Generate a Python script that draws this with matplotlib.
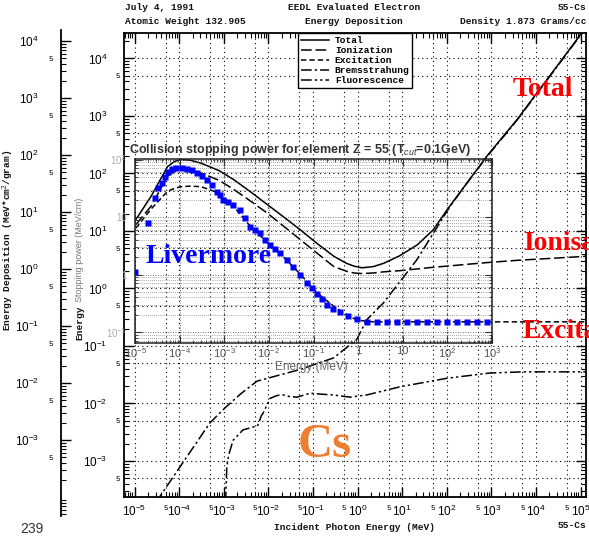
import numpy as np
import matplotlib
matplotlib.use('Agg')
import matplotlib.pyplot as plt
from matplotlib.ticker import (LogLocator, FixedLocator, FixedFormatter,
                               FuncFormatter, NullFormatter)

plt.rcParams['font.family'] = 'Liberation Sans'
plt.rcParams['mathtext.fontset'] = 'custom'
plt.rcParams['mathtext.rm'] = 'Liberation Sans'
plt.rcParams['mathtext.it'] = 'Liberation Sans:italic'
plt.rcParams['mathtext.bf'] = 'Liberation Sans:bold'

MONO = 'Liberation Mono'
SERIF = 'Liberation Serif'

# EEDL energy deposition for Cs (MeV*cm^2/gram) vs incident energy (MeV)
energy = [1.07e-5, 2.34e-5, 5.5e-5, 7.9e-5, 1.1e-4, 1.78e-4, 3.1e-4, 7.9e-4,
          1.7e-3, 4.0e-3, 9.5e-3, 2.24e-2, 5.2e-2, 0.126, 0.295, 0.56, 0.83,
          1.26, 2.24, 3.9, 8.9, 21.9, 50, 102, 282, 794, 3800, 8.3e4, 1.32e5]
total = [15.8, 39.8, 132, 162, 174, 170, 151, 112, 77.6, 47.9, 28.8, 17.4,
         10.5, 6.0, 3.63, 2.75, 2.45, 2.29, 2.40, 2.75, 3.72, 5.75, 10.5,
         23.4, 67.6, 200, 871, 2.14e4, 3.55e4]
ionization = [12.9, 26.9, 89.1, 110, 117, 115, 102, 75.9, 52.5, 33.1, 20.4,
              12.0, 7.08, 4.07, 2.40, 2.0, 1.86, 1.82, 1.86, 1.95, 2.04, 2.19,
              2.34, 2.45, 2.63, 2.82, 3.09, 3.55, 3.63]
excitation = [11.2, 24.0, 49.0, 55.0, 58.9, 60.3, 58.9, 45.7, 26.3, 12.0,
              6.31, 3.47, 1.78, 0.83, 0.49, 0.355, 0.30, 0.275, 0.263, 0.263,
              0.263, 0.263, 0.263, 0.263, 0.263, 0.263, 0.263, 0.263, 0.263]

brems_e = [3.0e-5, 4.9e-4, 1.12e-3, 2.5e-3, 5.6e-3, 5.1e-2, 0.29, 0.955,
           1.62, 3.8, 21.4, 117, 288, 794, 3800, 8.3e4, 1.32e5]
brems = [1.9e-4, 4.6e-3, 8.7e-3, 1.51e-2, 2.45e-2, 3.9e-2, 6.2e-2, 0.129,
         0.288, 0.56, 3.16, 26.3, 69.2, 195, 851, 2.09e4, 3.47e4]

fluor_e = [1.1e-3, 1.17e-3, 1.29e-3, 1.62e-3, 2.7e-3, 4.5e-3, 5.6e-3, 6.2e-3,
           6.9e-3, 7.6e-3, 1.1e-2, 1.58e-2, 2.14e-2, 3.0e-2, 4.4e-2, 8.7e-2,
           0.158, 0.28, 0.68, 1.62, 8.9, 102, 933, 5100, 1.32e5]
fluor = [1.9e-4, 7.9e-4, 1.26e-3, 2.29e-3, 3.47e-3, 3.89e-3, 3.98e-3, 4.68e-3,
         6.03e-3, 6.76e-3, 1.23e-2, 1.38e-2, 1.41e-2, 1.32e-2, 1.29e-2,
         1.51e-2, 1.45e-2, 1.41e-2, 1.29e-2, 1.41e-2, 1.95e-2, 2.75e-2,
         3.39e-2, 3.55e-2, 3.55e-2]

# Geant4 Livermore collision stopping power, Z = 55 (MeV/cm)
liv_e = [1.0e-5, 2.0e-5, 2.8e-5, 3.3e-5, 4.0e-5, 4.7e-5, 5.6e-5, 6.6e-5,
         8.5e-5, 1.12e-4, 1.45e-4, 1.86e-4, 2.4e-4, 3.1e-4, 4.1e-4, 5.2e-4,
         6.8e-4, 8.1e-4, 9.5e-4, 1.23e-3, 1.58e-3, 2.24e-3, 2.9e-3, 3.8e-3,
         4.9e-3, 6.3e-3, 8.3e-3, 1.07e-2, 1.38e-2, 1.78e-2, 2.5e-2, 3.5e-2,
         5.0e-2, 7.1e-2, 9.1e-2, 0.117, 0.155, 0.20, 0.28, 0.40, 0.60, 0.93,
         1.58, 2.6, 4.5, 7.4, 12.3, 20.9, 34.7, 58.9, 97.7, 162, 275, 457, 759]
liv_sp = [1.12, 7.76, 21.4, 31.6, 38.9, 50.1, 61.7, 67.6, 70.8, 70.8, 67.6,
          64.6, 57.5, 52.5, 43.7, 36.3, 27.5, 24.0, 20.0, 18.2, 16.2, 13.2,
          9.55, 6.76, 5.89, 5.25, 3.98, 3.24, 2.75, 2.34, 1.78, 1.38, 0.977,
          0.708, 0.575, 0.468, 0.372, 0.295, 0.251, 0.224, 0.191, 0.166,
          0.151, 0.151, 0.151, 0.151, 0.151, 0.151, 0.151, 0.151, 0.151,
          0.151, 0.151, 0.151, 0.151]

legend_labels = ['Total', 'Ionization', 'Excitation', 'Bremsstrahung',
                 'Fluorescence']
inset_xticks = [1e-5, 1e-4, 1e-3, 1e-2, 1e-1, 1, 10, 1e2, 1e3]
inset_xlabels = ['10$^{-5}$', '10$^{-4}$', '10$^{-3}$', '10$^{-2}$',
                 '10$^{-1}$', '1', '10', '10$^{2}$', '10$^{3}$']
inset_yticks = [0.1, 1, 10, 100]
inset_ylabels = ['10$^{-1}$', '1', '10', '10$^{2}$']
side_decades = [1e-3, 1e-2, 1e-1, 1, 10, 1e2, 1e3, 1e4]

W, H = 589, 540
fig = plt.figure(figsize=(W / 100, H / 100), dpi=100)


def box(left, top, right, bottom):
    """pixel box (from top-left) -> figure rect"""
    return [left / W, 1 - bottom / H, (right - left) / W, (bottom - top) / H]


def ptext(x, y, s, **kw):
    return fig.text(x / W, 1 - y / H, s, **kw)


def five_only(v, pos):
    m = v / 10 ** np.floor(np.log10(v) + 1e-9)
    return '5' if abs(m - 5) < 0.05 else ''


dots = (0, (1, 3))

# ---- main EEDL panel ----
ax = fig.add_axes(box(124, 33, 586, 497))
ax.set_xscale('log')
ax.set_yscale('log')
ax.set_xlim(10 ** -5.236, 10 ** 5.123)
ax.set_ylim(10 ** -3.626, 10 ** 4.443)
ax.set_facecolor('none')

for a in (ax.xaxis, ax.yaxis):
    a.set_major_locator(LogLocator(base=10, numticks=30))
    a.set_minor_locator(LogLocator(base=10, subs=np.arange(2, 10), numticks=30))
    a.set_minor_formatter(FuncFormatter(five_only))

ax.tick_params(which='both', direction='in', top=True, right=True,
               color='k')
ax.tick_params(which='major', length=7, width=1.0, labelsize=8.5)
ax.tick_params(which='minor', length=3.5, width=0.8, labelsize=5.5,
               labelfontfamily=MONO)
ax.tick_params(axis='y', which='major', pad=12)
ax.tick_params(axis='y', which='minor', pad=2.5)
ax.tick_params(axis='x', which='major', pad=5)
ax.tick_params(axis='x', which='minor', pad=6)
for s in ax.spines.values():
    s.set_linewidth(1.3)

ax.grid(True, which='major', linestyle=dots, color='k', lw=0.8)
for k in range(-5, 6):
    ax.axvline(5 * 10.0 ** k, linestyle=dots, color='k', lw=0.8, zorder=0.5)
for k in range(-4, 5):
    ax.axhline(5 * 10.0 ** k, linestyle=dots, color='k', lw=0.8, zorder=0.5)

lw = 1.1
ax.plot(energy, total, color='k', lw=lw, ls='-', label=legend_labels[0])
ax.plot(energy, ionization, color='k', lw=lw, ls=(0, (7, 2.5)),
        label=legend_labels[1])
ax.plot(energy, excitation, color='k', lw=lw, ls=(0, (3.5, 2)),
        label=legend_labels[2])
ax.plot(brems_e, brems, color='k', lw=lw, ls=(0, (7, 2, 1.5, 2)),
        label=legend_labels[3])
ax.plot(fluor_e, fluor, color='k', lw=lw, ls=(0, (7, 2, 1.5, 2, 1.5, 2)),
        label=legend_labels[4])

leg = ax.legend(loc='upper left', bbox_to_anchor=((298 - 124) / 462, 1.0),
                frameon=True, fancybox=False, edgecolor='k', framealpha=1,
                prop={'family': MONO, 'weight': 'bold', 'size': 6.8},
                handlelength=3.0, handletextpad=0.6, labelspacing=0.12,
                borderpad=0.3, borderaxespad=0)
leg.get_frame().set_linewidth(1.0)
leg.set_zorder(5)

# ---- extra log axis on the far left ----
lax = fig.add_axes(box(61, 30, 62, 516))
lax.patch.set_alpha(0)
for s in ('top', 'right', 'bottom'):
    lax.spines[s].set_visible(False)
lax.spines['left'].set_linewidth(1.3)
lax.set_xticks([])
lax.set_yscale('log')
lax.set_ylim(10 ** -4.333, 10 ** 4.193)
lax.yaxis.set_major_locator(FixedLocator(side_decades))
lax.yaxis.set_minor_locator(LogLocator(base=10, subs=np.arange(2, 10), numticks=30))
lax.yaxis.set_minor_formatter(FuncFormatter(
    lambda v, p: five_only(v, p) if v > 4e-4 else ''))
lax.tick_params(axis='y', which='both', direction='in')
lax.tick_params(axis='y', which='major', length=7, width=1.0, pad=16,
                labelsize=8.5)
lax.tick_params(axis='y', which='minor', length=3.5, width=0.8, pad=6,
                labelsize=5.5, labelfontfamily=MONO)

# ---- Geant4 inset ----
ins = fig.add_axes(box(135, 159, 492, 343))
ins.patch.set_alpha(0)
ins.set_xscale('log')
ins.set_yscale('log')
ins.set_xlim(1e-5, 1e3)
ins.set_ylim(10 ** -1.19, 10 ** 2.009)
ins.xaxis.set_major_locator(FixedLocator(inset_xticks))
ins.xaxis.set_major_formatter(FixedFormatter(inset_xlabels))
ins.xaxis.set_minor_locator(LogLocator(base=10, subs=np.arange(2, 10), numticks=30))
ins.xaxis.set_minor_formatter(NullFormatter())
ins.yaxis.set_major_locator(FixedLocator(inset_yticks))
ins.yaxis.set_major_formatter(FixedFormatter(inset_ylabels))
ins.yaxis.set_minor_locator(LogLocator(base=10, subs=np.arange(2, 10), numticks=30))
ins.yaxis.set_minor_formatter(NullFormatter())
ins.tick_params(which='both', direction='in', top=True, right=True,
                color='#333')
ins.tick_params(which='major', length=5, labelsize=8, labelcolor='#555',
                pad=2)
ins.tick_params(which='minor', length=2.5)
ins.tick_params(axis='y', which='major', labelcolor='#aaa', labelsize=7,
                pad=6)
for s in ins.spines.values():
    s.set_linewidth(1.1)
    s.set_color('#222')
ins.grid(True, which='major', linestyle=(0, (1, 2)), color='#444', lw=0.6)
ins.grid(True, which='minor', axis='y', linestyle=(0, (1, 2)), color='#555',
         lw=0.5)
ins.plot(liv_e, liv_sp, ls='none', marker='s', ms=4, color='#0000ff',
         mec='none', zorder=4)

ptext(300, 150, 'Collision stopping power for element Z = 55 (T$_{cut}$=0.1GeV)',
      ha='center', va='center', fontsize=9, fontweight='bold', color='#333')
ptext(311, 367, 'Energy (MeV)', ha='center', va='center', fontsize=8.5,
      color='#666')

# ---- header / footer texts ----
mono = dict(family=MONO, fontweight='bold', fontsize=6.8, color='#111')
ptext(125, 8, 'July 4, 1991', ha='left', va='center', **mono)
ptext(125, 21, 'Atomic Weight 132.905', ha='left', va='center', **mono)
ptext(354, 8, 'EEDL Evaluated Electron', ha='center', va='center', **mono)
ptext(354, 21, 'Energy Deposition', ha='center', va='center', **mono)
ptext(586, 8, '55-Cs', ha='right', va='center', **mono)
ptext(586, 21, 'Density 1.873 Grams/cc', ha='right', va='center', **mono)
ptext(355, 527, 'Incident Photon Energy (MeV)', ha='center', va='center',
      **mono)
ptext(586, 526, '55-Cs', ha='right', va='center', **mono)
ptext(8, 240, 'Energy Deposition (MeV*cm$^2$/gram)', ha='center',
      va='center', rotation=90, **mono)
ptext(80, 323, 'Energy', ha='center', va='center', rotation=90, **mono)
ptext(80, 250, 'Stopping power (MeV/cm)', ha='center', va='center',
      rotation=90, fontsize=6.5, color='#777')
ptext(20, 529, '239', ha='left', va='center', fontsize=10, color='#333')

# ---- annotations ----
serif = dict(family=SERIF, fontweight='bold', ha='left', va='center',
             zorder=10)
ptext(513, 90, 'Total', fontsize=20, color='#ff0000', **serif)
ptext(523, 243, 'Ionisation', fontsize=20, color='#ff0000', **serif)
ptext(523, 332, 'Excitation', fontsize=20, color='#ff0000', **serif)
ptext(145, 257, 'Livermore', fontsize=20, color='#0000ff', **serif)
ptext(298, 445, 'Cs', fontsize=35, color='#ed7d31', **serif)

fig.savefig('out.png', dpi=100)
